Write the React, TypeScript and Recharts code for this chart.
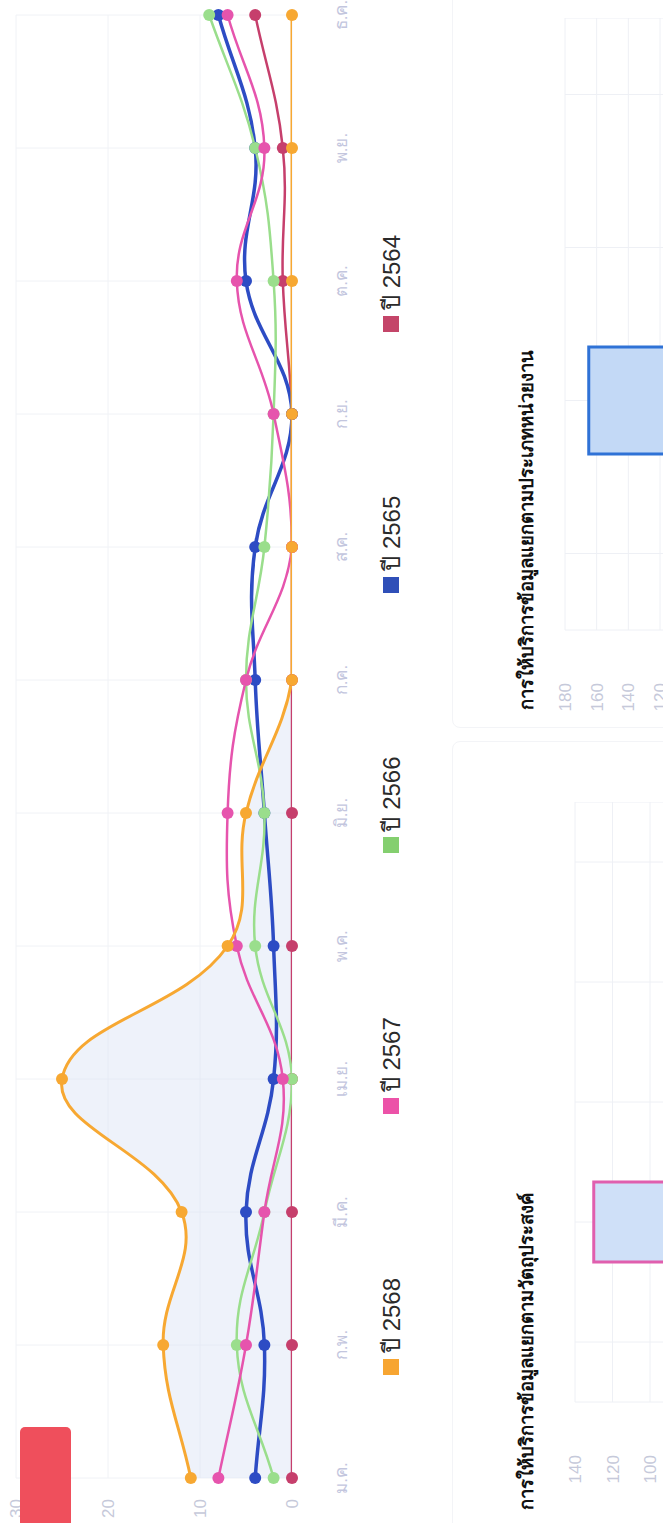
import React from 'react';
import { ComposedChart, Line, Area, XAxis, YAxis, CartesianGrid, BarChart, Bar, Cell } from 'recharts';

const months = ['ม.ค.', 'ก.พ.', 'มี.ค.', 'เม.ย.', 'พ.ค.', 'มิ.ย.', 'ก.ค.', 'ส.ค.', 'ก.ย.', 'ต.ค.', 'พ.ย.', 'ธ.ค.'];
const y2568 = [11, 14, 12, 25, 7, 5, 0, 0, 0, 0, 0, 0];
const y2567 = [8, 5, 3, 1, 6, 7, 5, 0, 2, 6, 3, 7];
const y2566 = [2, 6, 3, 0, 4, 3, 5, 3, 2, 2, 4, 9];
const y2565 = [4, 3, 5, 2, 2, 3, 4, 4, 0, 5, 4, 8];
const y2564 = [0, 0, 0, 0, 0, 0, 0, 0, 0, 1, 1, 4];
const yTicks = [0, 10, 20, 30];

const seriesNames = ['ปี 2568', 'ปี 2567', 'ปี 2566', 'ปี 2565', 'ปี 2564'];
const seriesKeys = ['y2568', 'y2567', 'y2566', 'y2565', 'y2564'];
const seriesColors = ['#f7a832', '#e654ad', '#9ade8c', '#2d4cc4', '#c63f6c'];
const legendColors = ['#f7a531', '#ec52a8', '#84cf6f', '#2f4fb8', '#c44569'];

const purposeCats = ['p1', 'p2', 'p3', 'p4', 'p5'];
const purposeVals = [70, 130, 45, 25, 15];
const purposeTicks = [100, 120, 140];
const agencyCats = ['a1', 'a2', 'a3', 'a4'];
const agencyVals = [90, 165, 60, 30];
const agencyTicks = [120, 140, 160, 180];

const rows = months.map((m, i) => ({
  m,
  y2568: y2568[i],
  y2567: y2567[i],
  y2566: y2566[i],
  y2565: y2565[i],
  y2564: y2564[i],
}));
const purposeRows = purposeCats.map((c, i) => ({ c, v: purposeVals[i] }));
const agencyRows = agencyCats.map((c, i) => ({ c, v: agencyVals[i] }));

const FONT = '"Liberation Sans", Arial, "Noto Sans", sans-serif';
const TOP = 16;
const PLOT_H = 276;

// Chart.js-like spline (tension 0.4, control points capped to the plot area)
const makeCurve = (t: number, minY: number, maxY: number) => (context: any) => {
  let xs: number[] = [];
  let ys: number[] = [];
  const cap = (v: number) => Math.max(minY, Math.min(maxY, v));
  const obj: any = {
    _line: undefined,
    areaStart() { obj._line = 0; },
    areaEnd() { obj._line = NaN; },
    lineStart() { xs = []; ys = []; },
    point(x: number, y: number) { xs.push(+x); ys.push(+y); },
    lineEnd() {
      const n = xs.length;
      if (n > 0) {
        if (obj._line) context.lineTo(xs[0], ys[0]); else context.moveTo(xs[0], ys[0]);
        if (n > 1) {
          const cp: { px: number; py: number; nx: number; ny: number }[] = [];
          for (let i = 0; i < n; i++) {
            const pi = i > 0 ? i - 1 : i;
            const ni = i < n - 1 ? i + 1 : i;
            const d01 = Math.hypot(xs[i] - xs[pi], ys[i] - ys[pi]);
            const d12 = Math.hypot(xs[ni] - xs[i], ys[ni] - ys[i]);
            let s01 = d01 / (d01 + d12);
            let s12 = d12 / (d01 + d12);
            if (isNaN(s01)) s01 = 0;
            if (isNaN(s12)) s12 = 0;
            const fa = t * s01;
            const fb = t * s12;
            cp.push({
              px: xs[i] - fa * (xs[ni] - xs[pi]),
              py: cap(ys[i] - fa * (ys[ni] - ys[pi])),
              nx: xs[i] + fb * (xs[ni] - xs[pi]),
              ny: cap(ys[i] + fb * (ys[ni] - ys[pi])),
            });
          }
          for (let i = 0; i < n - 1; i++) {
            context.bezierCurveTo(cp[i].nx, cp[i].ny, cp[i + 1].px, cp[i + 1].py, xs[i + 1], ys[i + 1]);
          }
        }
      }
      if (obj._line || (obj._line !== 0 && n === 1)) context.closePath();
      obj._line = 1 - obj._line;
    },
  };
  return obj;
};

const curve = makeCurve(0.4, TOP, TOP + PLOT_H);
const widths = [3, 2.5, 2.5, 3.5, 2.5];
const drawOrder = [4, 3, 2, 1, 0];

export default function App() {
  return (
    <div style={{ position: 'absolute', left: 0, top: 0, width: 663, height: 1523, overflow: 'hidden', background: '#fff' }}>
      <div
        style={{
          position: 'absolute',
          left: 0,
          top: 0,
          width: 1523,
          height: 663,
          transformOrigin: '0 0',
          transform: 'translate(0px, 1523px) rotate(-90deg)',
          fontFamily: FONT,
          background: '#fff',
        }}
      >
        <div style={{ position: 'absolute', left: 0, top: 0 }}>
          <ComposedChart width={1523} height={TOP + PLOT_H + 68} data={rows} margin={{ top: TOP, right: 15, bottom: 0, left: 0 }}>
            <CartesianGrid stroke="#f0f2f6" strokeWidth={1} />
            <XAxis
              dataKey="m"
              scale="point"
              padding={{ left: 0, right: 0 }}
              height={68}
              axisLine={false}
              tickLine={false}
              tickSize={0}
              tickMargin={43}
              interval={0}
              tick={{ fill: '#c3c6de', fontSize: 17, fontFamily: FONT }}
            />
            <YAxis
              width={45}
              domain={[0, 30]}
              ticks={yTicks}
              allowDataOverflow
              axisLine={false}
              tickLine={false}
              tickSize={0}
              tickMargin={21}
              tick={{ fill: '#c6c9da', fontSize: 17, fontFamily: FONT }}
            />
            <Area
              dataKey="y2568"
              type={curve as any}
              stroke="none"
              fill="#d9e3f4"
              fillOpacity={0.45}
              dot={false}
              activeDot={false}
              isAnimationActive={false}
            />
            {drawOrder.map((i) => (
              <Line
                key={seriesKeys[i]}
                dataKey={seriesKeys[i]}
                type={curve as any}
                stroke={seriesColors[i]}
                strokeWidth={widths[i]}
                dot={{ r: 6, fill: seriesColors[i], stroke: seriesColors[i], strokeWidth: 0, clipDot: false } as any}
                activeDot={false}
                isAnimationActive={false}
              />
            ))}
          </ComposedChart>
        </div>

        <div style={{ position: 'absolute', left: -10, top: 20, width: 106, height: 51, background: '#ef4f5c', borderRadius: 5 }} />

        {seriesNames.map((name, i) => (
          <div
            key={name}
            style={{ position: 'absolute', left: 148 + i * 260.75, top: 376, height: 30, display: 'flex', alignItems: 'center', whiteSpace: 'nowrap' }}
          >
            <div style={{ width: 16, height: 16, background: legendColors[i], marginRight: 6 }} />
            <span style={{ fontSize: 24, color: '#2a2a2a', fontFamily: FONT }}>{name}</span>
          </div>
        ))}

        <div style={{ position: 'absolute', left: -10, top: 452, width: 790, height: 400, border: '1px solid #f3f4f7', borderRadius: 8 }} />
        <div style={{ position: 'absolute', left: 795, top: 452, width: 740, height: 400, border: '1px solid #f3f4f7', borderRadius: 8 }} />

        <div style={{ position: 'absolute', left: 13, top: 515, fontSize: 18.5, fontWeight: 'bold', color: '#111', whiteSpace: 'nowrap', lineHeight: '24px' }}>
          การให้บริการข้อมูลแยกตามวัตถุประสงค์
        </div>
        <div style={{ position: 'absolute', left: 813, top: 515, fontSize: 18.5, fontWeight: 'bold', color: '#111', whiteSpace: 'nowrap', lineHeight: '24px' }}>
          การให้บริการข้อมูลแยกตามประเภทหน่วยงาน
        </div>

        <div style={{ position: 'absolute', left: 0, top: 565 }}>
          <BarChart width={721} height={10 + 262.5 + 30} data={purposeRows} margin={{ top: 10, right: 0, bottom: 30, left: 0 }}>
            <CartesianGrid stroke="#eef0f5" />
            <XAxis dataKey="c" hide />
            <YAxis
              width={121}
              domain={[0, 140]}
              ticks={purposeTicks}
              axisLine={false}
              tickLine={false}
              tickSize={0}
              tickMargin={53}
              tick={{ fill: '#c6c9da', fontSize: 17, fontFamily: FONT }}
            />
            <Bar dataKey="v" barSize={80} strokeWidth={3} isAnimationActive={false}>
              {purposeRows.map((r, i) => (
                <Cell key={r.c} fill="#cfe0f8" stroke={i === 1 ? '#e05fae' : '#7aa7e8'} />
              ))}
            </Bar>
          </BarChart>
        </div>

        <div style={{ position: 'absolute', left: 772, top: 555 }}>
          <BarChart width={733} height={10 + 285 + 30} data={agencyRows} margin={{ top: 10, right: 0, bottom: 30, left: 0 }}>
            <CartesianGrid stroke="#eef0f5" />
            <XAxis dataKey="c" hide />
            <YAxis
              width={121}
              domain={[0, 180]}
              ticks={agencyTicks}
              axisLine={false}
              tickLine={false}
              tickSize={0}
              tickMargin={53}
              tick={{ fill: '#c6c9da', fontSize: 17, fontFamily: FONT }}
            />
            <Bar dataKey="v" barSize={107} strokeWidth={3} isAnimationActive={false}>
              {agencyRows.map((r, i) => (
                <Cell key={r.c} fill="#c3d9f6" stroke={i === 1 ? '#2f72d6' : '#7aa7e8'} />
              ))}
            </Bar>
          </BarChart>
        </div>
      </div>
    </div>
  );
}
